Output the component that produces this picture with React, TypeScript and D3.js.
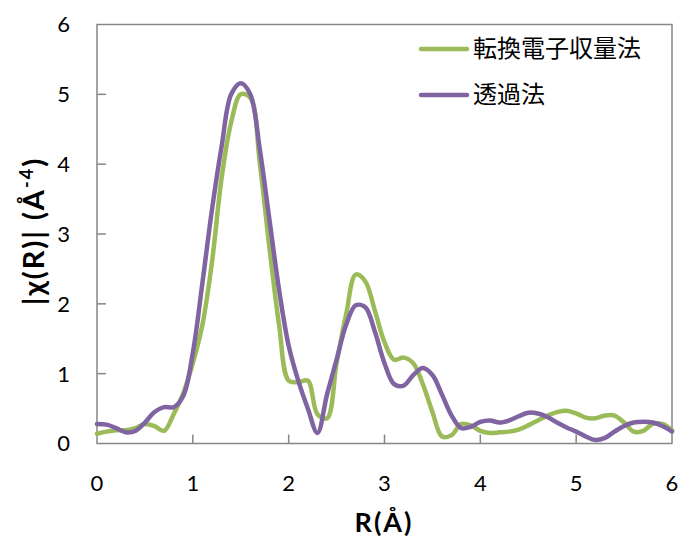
import React from 'react';
import * as d3 from 'd3';

// R grid (Å), 0.1 step
const rValues = d3.range(0, 61).map((i) => +(i * 0.1).toFixed(1));

// 転換電子収量法 (conversion electron yield)
const ceyValues = [
    0.14, 0.17, 0.19, 0.19, 0.22, 0.28, 0.25, 0.18, 0.42, 0.72,
    1.15, 1.7, 2.6, 3.8, 4.6, 5.0, 4.95, 4.0, 2.8, 1.7,
    0.9, 0.88, 0.9, 0.42, 0.36, 1.15, 1.85, 2.42, 2.32, 1.9,
    1.45, 1.2, 1.23, 1.15, 0.85, 0.45, 0.1, 0.12, 0.28, 0.26,
    0.18, 0.15, 0.16, 0.17, 0.2, 0.26, 0.33, 0.4, 0.45, 0.47,
    0.43, 0.37, 0.36, 0.4, 0.4, 0.3, 0.17, 0.18, 0.28, 0.28,
    0.19,
];

// 透過法 (transmission)
const transValues = [
    0.28, 0.27, 0.22, 0.16, 0.18, 0.3, 0.45, 0.52, 0.52, 0.68,
    1.3, 2.3, 3.35, 4.25, 5.0, 5.16, 5.0, 4.2, 3.2, 2.2,
    1.4, 0.9, 0.5, 0.15, 0.7, 1.2, 1.7, 1.98, 1.95, 1.6,
    1.15, 0.85, 0.83, 0.98, 1.08, 0.98, 0.7, 0.4, 0.22, 0.24,
    0.31, 0.33, 0.3, 0.33, 0.39, 0.44, 0.43, 0.38, 0.3, 0.23,
    0.17, 0.1, 0.05, 0.08, 0.17, 0.25, 0.3, 0.31, 0.3, 0.25,
    0.17,
];

const seriesNames = ['転換電子収量法', '透過法'];
const seriesColors = ['#9BBB59', '#8064A2'];
const xTicks = [0, 1, 2, 3, 4, 5, 6];
const yTicks = [0, 1, 2, 3, 4, 5, 6];

const width = 681;
const height = 540;
const margin = { top: 24.5, right: 9, bottom: 96.5, left: 97 };
const axisColor = '#868686';
const numFont = 'Lato, "Open Sans", sans-serif';
const cjkFont = '"Noto Sans CJK JP", sans-serif';

const App = () => {
    const x = d3.scaleLinear().domain([0, 6]).range([margin.left, width - margin.right]);
    const y = d3.scaleLinear().domain([0, 6]).range([height - margin.bottom, margin.top]);

    const line = d3
        .line<number>()
        .x((d, i) => x(rValues[i]))
        .y((d) => y(d))
        .curve(d3.curveCatmullRom.alpha(0.5));

    const series = [ceyValues, transValues];
    const x0 = x(0);
    const x1 = x(6);
    const y0 = y(0);
    const y1 = y(6);

    return (
        <svg
            width={width}
            height={height}
            style={{ position: 'absolute', left: 0, top: 0, background: '#fff' }}
        >
            {/* plot frame */}
            <rect x={x0} y={y1} width={x1 - x0} height={y0 - y1} fill="none" stroke={axisColor} strokeWidth={1.5} />

            {/* series */}
            {series.map((vals, i) => (
                <path
                    key={seriesNames[i]}
                    d={line(vals) || ''}
                    fill="none"
                    stroke={seriesColors[i]}
                    strokeWidth={4.5}
                    strokeLinejoin="round"
                    strokeLinecap="round"
                />
            ))}

            {/* y ticks */}
            {yTicks.map((t) => (
                <g key={'y' + t}>
                    {t > 0 && t < 6 && <line x1={x0} x2={x0 + 9} y1={y(t)} y2={y(t)} stroke={axisColor} strokeWidth={1.5} />}
                    <text
                        x={x0 - 27}
                        y={y(t)}
                        dy="0.36em"
                        textAnchor="end"
                        fontFamily={numFont}
                        fontSize={22}
                        fill="#000"
                    >
                        {t}
                    </text>
                </g>
            ))}

            {/* x ticks */}
            {xTicks.map((t) => (
                <g key={'x' + t}>
                    {t > 0 && t < 6 && <line x1={x(t)} x2={x(t)} y1={y0} y2={y0 - 9} stroke={axisColor} strokeWidth={1.5} />}
                    <text
                        x={x(t)}
                        y={y0 + 47}
                        textAnchor="middle"
                        fontFamily={numFont}
                        fontSize={22}
                        fill="#000"
                    >
                        {t}
                    </text>
                </g>
            ))}

            {/* axis titles */}
            <text
                x={384}
                y={532}
                textAnchor="middle"
                fontFamily={numFont}
                fontWeight="bold"
                fontSize={27}
                letterSpacing={2}
            >
                R(Å)
            </text>
            <text
                transform={`translate(44, 231) rotate(-90)`}
                textAnchor="middle"
                fontFamily={numFont}
                fontWeight="bold"
                fontSize={29}
                letterSpacing={2}
            >
                |χ(R)| (Å
                <tspan fontSize={18} dy={-11}>-4</tspan>
                <tspan dy={11}>)</tspan>
            </text>

            {/* legend */}
            {seriesNames.map((name, i) => (
                <g key={'lg' + name} transform={`translate(0, ${49 + i * 46})`}>
                    <line x1={421} x2={467} y1={0} y2={0} stroke={seriesColors[i]} strokeWidth={4.5} strokeLinecap="round" />
                    <text x={473} y={0} dy="0.35em" fontFamily={cjkFont} fontSize={24} fill="#000">
                        {name}
                    </text>
                </g>
            ))}
        </svg>
    );
};

export default App;
